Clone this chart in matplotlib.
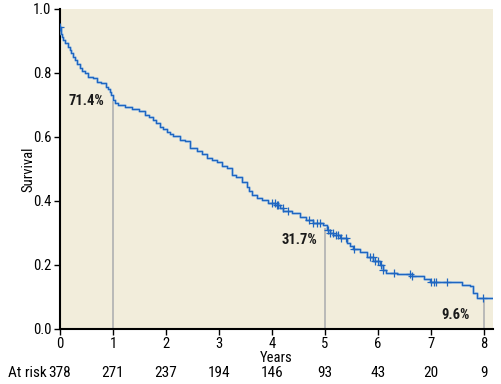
import numpy as np
import matplotlib
matplotlib.use("Agg")
import matplotlib.pyplot as plt

# ---- data ----
times = [0, 0.01, 0.03, 0.06, 0.10, 0.15, 0.18, 0.21, 0.25, 0.28, 0.32, 0.37, 0.42,
         0.47, 0.52, 0.62, 0.69, 0.78, 0.87, 0.91, 0.94, 0.97, 1.0, 1.04, 1.09, 1.22,
         1.35, 1.5, 1.6, 1.68, 1.75, 1.82, 1.89, 1.95, 2.01, 2.08, 2.14, 2.26, 2.36,
         2.45, 2.58, 2.67, 2.77, 2.86, 2.97, 3.05, 3.15, 3.24, 3.33, 3.43, 3.52, 3.57,
         3.62, 3.71, 3.81, 3.93, 4.06, 4.15, 4.21, 4.37, 4.53, 4.65, 4.78, 4.97, 5.03,
         5.1, 5.16, 5.28, 5.41, 5.47, 5.53, 5.66, 5.79, 5.91, 6.04, 6.1, 6.16, 6.35,
         6.64, 6.86, 6.98, 7.58, 7.74, 7.8, 7.87, 8.17]
survival = [0.945, 0.923, 0.913, 0.903, 0.893, 0.882, 0.872, 0.862, 0.851, 0.841,
            0.829, 0.815, 0.806, 0.799, 0.786, 0.783, 0.773, 0.770, 0.757, 0.750,
            0.742, 0.730, 0.716, 0.706, 0.700, 0.693, 0.689, 0.682, 0.670, 0.662,
            0.652, 0.645, 0.632, 0.625, 0.617, 0.610, 0.602, 0.590, 0.586, 0.565,
            0.556, 0.546, 0.535, 0.528, 0.523, 0.508, 0.502, 0.481, 0.474, 0.460,
            0.445, 0.432, 0.419, 0.410, 0.403, 0.395, 0.388, 0.377, 0.370, 0.361,
            0.349, 0.341, 0.330, 0.325, 0.309, 0.300, 0.294, 0.283, 0.268, 0.258,
            0.249, 0.242, 0.226, 0.213, 0.200, 0.185, 0.176, 0.172, 0.166, 0.155,
            0.148, 0.138, 0.134, 0.111, 0.096, 0.096]
censor_times = [0, 4.0, 4.05, 4.1, 4.12, 4.2, 4.3, 4.7, 4.78, 4.85, 4.9, 5.05, 5.1,
                5.15, 5.2, 5.25, 5.3, 5.4, 5.55, 5.85, 5.9, 5.95, 6.0, 6.05, 6.1, 6.3,
                6.6, 6.65, 7.0, 7.05, 7.1, 7.3, 7.98]
landmark_years = [1, 5, 8]
landmark_surv = [0.714, 0.317, 0.096]
landmark_labels = ["71.4%", "31.7%", "9.6%"]
risk_years = [0, 1, 2, 3, 4, 5, 6, 7, 8]
at_risk = [378, 271, 237, 194, 146, 93, 43, 20, 9]

# ---- fonts ----
plt.rcParams['font.family'] = ['Liberation Sans Narrow', 'Roboto Condensed',
                               'Roboto', 'DejaVu Sans']
plt.rcParams['font.stretch'] = 'condensed'

fig = plt.figure(figsize=(5.02, 3.84), dpi=100)
ax = fig.add_axes([60/502, 1-329/384, (493-60)/502, (329-9)/384])
ax.set_facecolor('#f2eddb')

t = np.array(times); s = np.array(survival)
ax.step(t, s, where='post', color='#9fc0e3', lw=1.8, zorder=3)
ax.step(t, s, where='post', color='#1f66c0', lw=0.9, zorder=4)

ct = np.array(censor_times)
idx = np.searchsorted(t, ct, side='right') - 1
cs = s[idx]
ax.plot(ct, cs, linestyle='none', marker='+', markersize=6, mew=0.9,
        color='#1f66c0', zorder=5)

label_pos = [(0.49, 0.7125), (4.51, 0.278), (7.47, 0.044)]
for yr, sv, lab, (lx, ly) in zip(landmark_years, landmark_surv, landmark_labels, label_pos):
    ax.vlines(yr, 0, sv, color='#b5b5b5', lw=1.3, zorder=2)
    ax.text(lx, ly, lab, ha='center', va='center', fontsize=10.5,
            fontweight='bold', color='#1a1a1a')

ax.set_xlim(0, 8.17)
ax.set_ylim(0, 1.0)
ax.set_xticks(risk_years)
ax.set_yticks([0, 0.2, 0.4, 0.6, 0.8, 1.0])
ax.set_yticklabels(['0.0', '0.2', '0.4', '0.6', '0.8', '1.0'])
for sp in ['top', 'right']:
    ax.spines[sp].set_visible(False)
for sp in ['left', 'bottom']:
    ax.spines[sp].set_linewidth(1.5)
ax.tick_params(direction='out', length=4, width=1, labelsize=10.5, pad=2)
ax.set_xlabel('Years', fontsize=10.5, labelpad=0)
ax.set_ylabel('Survival', fontsize=10.5)
ax.yaxis.set_label_coords(-25/433, 0.5)

for yr, n in zip(risk_years, at_risk):
    ax.text(yr, -0.137, str(n), ha='center', va='center', fontsize=11,
            transform=ax.transData, clip_on=False)
fig.text(8/502, 1-373/384, 'At risk', ha='left', va='center', fontsize=11)

fig.savefig('out.png', dpi=100)
